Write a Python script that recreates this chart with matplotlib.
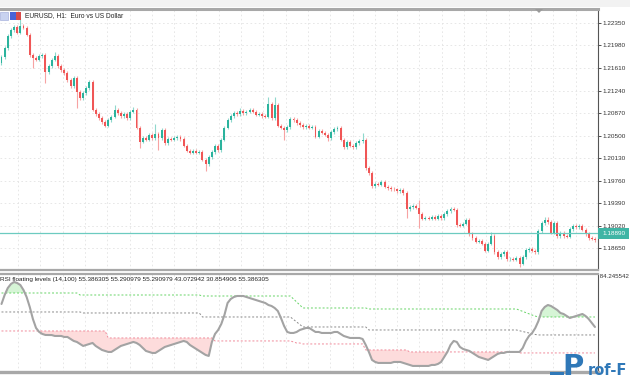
import numpy as np
import matplotlib
matplotlib.use("Agg")
import matplotlib.pyplot as plt
from matplotlib.patches import Rectangle, Polygon
import matplotlib.transforms as mtransforms

# ---------------- data ----------------
title = "EURUSD, H1:  Euro vs US Dollar"
ind_label = ("RSI floating levels (14,100) 55.386305 55.290979 55.290979 "
             "43.072942 30.854906 55.386305")
rsi_max_label = "84.245542"
watermark = ("P", "rof-F")

first_open = 1.21692
closes = [
    1.21791, 1.21939, 1.22136, 1.22235, 1.22284, 1.22186, 1.22301, 1.22268, 1.22153, 1.21824,
    1.21775, 1.21742, 1.21807, 1.21824, 1.21544, 1.21643, 1.21742, 1.21807, 1.21643, 1.21577,
    1.21528, 1.21413, 1.21314, 1.21446, 1.21216, 1.21117, 1.21199, 1.21281, 1.21380, 1.20920,
    1.20854, 1.20788, 1.20722, 1.20657, 1.20755, 1.20805, 1.20920, 1.20870, 1.20821, 1.20854,
    1.20788, 1.20887, 1.20920, 1.20624, 1.20394, 1.20459, 1.20427, 1.20509, 1.20459, 1.20525,
    1.20459, 1.20591, 1.20377, 1.20443, 1.20427, 1.20459, 1.20476, 1.20443, 1.20328, 1.20246,
    1.20213, 1.20246, 1.20213, 1.20229, 1.20098, 1.20032, 1.20147, 1.20229, 1.20328, 1.20262,
    1.20427, 1.20624, 1.20755, 1.20821, 1.20870, 1.20854, 1.20903, 1.20870, 1.20887, 1.20920,
    1.20887, 1.20838, 1.20854, 1.20821, 1.20805, 1.21018, 1.20788, 1.21002, 1.20657, 1.20624,
    1.20591, 1.20640, 1.20772, 1.20755, 1.20706, 1.20673, 1.20640, 1.20657, 1.20624, 1.20640,
    1.20476, 1.20574, 1.20542, 1.20509, 1.20459, 1.20558, 1.20607, 1.20624, 1.20427, 1.20311,
    1.20394, 1.20328, 1.20311, 1.20377, 1.20410, 1.20427, 1.19966, 1.19884, 1.19670, 1.19703,
    1.19687, 1.19736, 1.19654, 1.19637, 1.19621, 1.19615, 1.19588, 1.19605, 1.19555, 1.19292,
    1.19325, 1.19342, 1.19309, 1.19210, 1.19128, 1.19144, 1.19128, 1.19161, 1.19128, 1.19177,
    1.19144, 1.19210, 1.19259, 1.19292, 1.19276, 1.19029, 1.19013, 1.19046, 1.19111, 1.18881,
    1.18815, 1.18750, 1.18766, 1.18717, 1.18602, 1.18717, 1.18848, 1.18585, 1.18503, 1.18552,
    1.18585, 1.18470, 1.18478, 1.18454, 1.18487, 1.18388, 1.18503, 1.18618, 1.18635, 1.18602,
    1.18585, 1.18930, 1.19062, 1.19111, 1.19078, 1.18898, 1.19062, 1.18848, 1.18898, 1.18848,
    1.18832, 1.18963, 1.19013, 1.18996, 1.19013, 1.18947, 1.18881, 1.18815, 1.18799, 1.18782,
]
wick_highs = {6: 1.22432, 17: 1.21873, 28: 1.21413, 36: 1.21002, 42: 1.20969,
              49: 1.20690, 76: 1.20953, 85: 1.21133, 87: 1.21133, 115: 1.20542,
              133: 1.19440, 156: 1.18914, 173: 1.19161, 174: 1.19161}
wick_lows = {10: 1.21610, 14: 1.21364, 24: 1.20953, 44: 1.20295, 50: 1.20262,
             65: 1.19917, 90: 1.20427, 104: 1.20410, 129: 1.19144, 133: 1.18980,
             165: 1.18339}
bid_price = 1.18890
price_ticks = [1.22350, 1.21980, 1.21610, 1.21240, 1.20870, 1.20500,
               1.20130, 1.19760, 1.19390, 1.19020, 1.18650]

rsi = [
    64.12, 70.23, 74.98, 77.70, 79.06, 78.38, 77.02, 73.62, 68.87, 62.08,
    53.93, 47.82, 45.11, 43.75, 43.07, 43.07, 43.00, 42.39, 42.39, 42.39,
    41.71, 41.71, 40.35, 39.00, 38.32, 36.96, 35.60, 36.28, 36.96, 37.64,
    35.60, 34.24, 32.88, 32.21, 31.53, 31.53, 32.88, 34.24, 35.60, 36.28,
    36.96, 37.64, 38.32, 37.64, 36.28, 34.24, 32.21, 31.53, 30.85, 30.85,
    32.21, 33.56, 34.92, 35.60, 36.28, 36.96, 37.64, 38.32, 39.00, 38.32,
    36.28, 34.92, 33.56, 32.21, 30.85, 29.49, 28.81, 38.32, 43.75, 46.46,
    50.54, 56.65, 64.80, 67.51, 68.87, 69.55, 69.55, 69.55, 68.87, 68.19,
    67.51, 66.83, 66.15, 65.48, 64.80, 63.44, 62.76, 61.40, 59.36, 54.61,
    49.18, 45.11, 44.43, 44.43, 45.11, 46.46, 47.14, 47.82, 47.82, 46.46,
    45.11, 45.11, 44.43, 44.43, 44.43, 44.43, 45.11, 45.11, 43.75, 42.39,
    41.71, 41.03, 41.03, 41.03, 41.03, 40.35, 36.28, 31.53, 26.09, 24.73,
    24.06, 24.06, 24.06, 24.06, 24.06, 24.73, 24.73, 24.73, 24.06, 23.38,
    22.70, 22.02, 22.02, 22.02, 22.02, 22.02, 22.02, 22.70, 22.70, 23.38,
    24.73, 28.13, 31.53, 36.28, 39.00, 38.32, 34.92, 33.56, 32.88, 32.21,
    30.85, 29.49, 28.13, 27.45, 26.77, 26.09, 27.45, 28.81, 30.17, 30.85,
    30.85, 31.53, 31.53, 31.53, 31.53, 31.53, 34.24, 39.00, 42.39, 44.43,
    47.82, 52.57, 59.36, 62.08, 63.44, 62.76, 61.40, 60.04, 58.01, 57.33,
    55.97, 54.61, 55.29, 55.97, 56.65, 57.33, 55.97, 53.93, 51.22, 48.50,
]
# floating levels: (first bar index, value)
upper_steps = [(0, 71.59), (25, 70.23), (64, 69.55), (93, 67.50), (94, 65.50),
               (95, 63.40), (96, 61.40), (117, 60.72), (165, 59.90), (166, 59.00),
               (167, 58.20), (168, 57.40), (169, 56.60), (170, 55.90), (171, 55.29)]
mid_steps = [(0, 58.69), (26, 58.01), (64, 55.29), (93, 53.60), (94, 51.90),
             (95, 50.20), (96, 48.50), (117, 46.46), (165, 45.90), (166, 45.40),
             (167, 44.90), (168, 44.40), (169, 43.90), (170, 43.40), (171, 43.07)]
lower_steps = [(0, 45.78), (34, 41.03), (68, 39.00), (93, 38.30), (94, 37.60),
               (96, 36.96), (116, 32.88), (130, 31.53), (165, 30.85)]

# ---------------- helpers ----------------
N = len(closes)
x = np.arange(N)
opens = [first_open] + closes[:-1]
wick_pad = 0.00025
highs = [wick_highs.get(i, max(opens[i], closes[i]) + wick_pad) for i in range(N)]
lows = [wick_lows.get(i, min(opens[i], closes[i]) - wick_pad) for i in range(N)]


def expand(steps, n):
    starts = [s for s, _ in steps] + [n]
    vals = [v for _, v in steps]
    return np.repeat(vals, np.diff(starts))


upper = expand(upper_steps, N)
mid = expand(mid_steps, N)
lower = expand(lower_steps, N)
rsi_a = np.array(rsi)

# ---------------- figure ----------------
W, H = 630, 380
fig = plt.figure(figsize=(W / 100, H / 100), dpi=100)
fig.patch.set_facecolor("white")
FONT = "Liberation Sans"

bull = "#2bb39d"
bear = "#f05656"
bull_w = "#8fd8cc"
bear_w = "#f7a3a3"
grid_c = "#e3e3e3"
sep_c = "#a8a8a8"

ax = fig.add_axes([0, 1 - 270 / H, 598 / W, (270 - 9) / H])
ax2 = fig.add_axes([0, 1 - 372 / H, 598 / W, (372 - 274) / H])

px_per_bar = 3.14
xlim = (-1.5 / px_per_bar, -1.5 / px_per_bar + 598 / px_per_bar)

# grid (vertical lines in axes fraction, every ~22.3 px)
vfr = [(18 + 22.3 * k) / 598 for k in range(27) if 18 + 22.3 * k < 598]
for a in (ax, ax2):
    a.vlines(vfr, 0, 1, transform=a.transAxes, colors=grid_c, lw=0.6,
             linestyles=(0, (2, 3)), zorder=0)
for p in price_ticks:
    ax.axhline(p, color=grid_c, lw=0.6, ls=(0, (2, 3)), zorder=0)

# candles
for i in range(N):
    o, c = opens[i], closes[i]
    up = c >= o
    ax.vlines(x[i], lows[i], highs[i], color=bull_w if up else bear_w, lw=0.8, zorder=2)
    body = max(abs(c - o), 0.00004)
    ax.bar(x[i], body, bottom=min(o, c), width=0.62,
           color=bull if up else bear, lw=0, zorder=3)

ax.axhline(bid_price, color="#6ccbc0", lw=0.9, zorder=4)
trans = mtransforms.blended_transform_factory(ax.transAxes, ax.transData)
ax.add_patch(Rectangle((1.0, bid_price - 0.00085), 31 / 598, 0.0017,
                       transform=trans, fc="#3fb5a5", ec="none", clip_on=False,
                       zorder=6))
ax.text(1.0 + 4 / 598, bid_price, f"{bid_price:.5f}", transform=trans, ha="left",
        va="center", fontsize=4.6, family=FONT, color="white", clip_on=False,
        zorder=7)

ax.set_xlim(*xlim)
ax.set_ylim(1.18289, 1.22580)
ax.yaxis.tick_right()
ax.set_yticks(price_ticks)
ax.set_yticklabels([f"{p:.5f}" for p in price_ticks], family=FONT)
ax.tick_params(axis="y", labelsize=4.6, length=2.5, width=0.6, pad=1,
               colors="#333333")
ax.set_xticks([])
ax.spines["left"].set_visible(False)
ax.spines["right"].set_color("#555555")
ax.spines["right"].set_linewidth(0.8)
ax.spines["top"].set_color(sep_c)
ax.spines["top"].set_linewidth(2.2)
ax.spines["bottom"].set_color(sep_c)
ax.spines["bottom"].set_linewidth(1.6)

# ----- RSI panel -----
ax2.fill_between(x, rsi_a, upper, where=rsi_a >= upper, interpolate=True,
                 color="#d6f5d6", lw=0, zorder=1)
ax2.fill_between(x, rsi_a, lower, where=rsi_a <= lower, interpolate=True,
                 color="#fddcdc", lw=0, zorder=1)
ax2.plot(x, upper, color="#66d466", lw=0.7, ls=(0, (2, 2)), zorder=2)
ax2.plot(x, mid, color="#8a8a8a", lw=0.7, ls=(0, (2, 2)), zorder=2)
ax2.plot(x, lower, color="#f08a9a", lw=0.7, ls=(0, (2, 2)), zorder=2)
ax2.plot(x, rsi_a, color="#a3a3a3", lw=1.5, zorder=3, solid_capstyle="round")
ax2.set_xlim(*xlim)
ax2.set_ylim(17.9, 84.5)
ax2.set_xticks([])
ax2.set_yticks([])
ax2.spines["left"].set_visible(False)
ax2.spines["right"].set_color("#555555")
ax2.spines["right"].set_linewidth(0.8)
ax2.spines["top"].set_color(sep_c)
ax2.spines["top"].set_linewidth(1.6)
ax2.spines["bottom"].set_color(sep_c)
ax2.spines["bottom"].set_linewidth(2.4)
ax2.text(1.0, 0.97, " " + rsi_max_label, transform=ax2.transAxes, ha="left",
         va="center", fontsize=4.4, family=FONT, color="#333333", clip_on=False)
ax2.text(0.0, 0.94, ind_label, transform=ax2.transAxes, ha="left", va="center",
         fontsize=4.6, family=FONT, color="#222222", zorder=5)

# ----- title & decorations -----
fig.text(25 / W, 1 - 16 / H, title, ha="left", va="center", fontsize=4.8,
         family=FONT, color="#222222")
fig.add_artist(Rectangle((0, 1 - 7 / H), 1, 7 / H, transform=fig.transFigure,
                         fc="#f2f2f2", ec="none", zorder=0))
fig.add_artist(Rectangle((0 / W, 1 - 20 / H), 8 / W, 8 / H, transform=fig.transFigure,
                         fc="#c9d3f0", ec="#9aa6d8", lw=0.4))
fig.add_artist(Rectangle((10 / W, 1 - 20 / H), 6 / W, 8 / H, transform=fig.transFigure,
                         fc="#4a63d8", ec="none"))
fig.add_artist(Rectangle((16 / W, 1 - 20 / H), 5 / W, 8 / H, transform=fig.transFigure,
                         fc="#d84a4a", ec="none"))
fig.add_artist(Polygon([[535 / W, 1 - 9 / H], [543 / W, 1 - 9 / H], [539 / W, 1 - 13 / H]],
                       closed=True, transform=fig.transFigure, fc="#9a9a9a", ec="none"))

# watermark (kept inside the image)
fig.add_artist(Rectangle((550 / W, 1 - 375 / H), 14 / W, 3 / H, transform=fig.transFigure,
                         fc="#2f78b8", ec="none", zorder=10))
fig.text(562 / W, 1 - 375 / H, watermark[0], fontsize=21, fontweight="bold",
         color="#2f78b8", family="DejaVu Sans", ha="left", va="baseline", zorder=10)
fig.text(627 / W, 1 - 375 / H, watermark[1], fontsize=10.5, fontweight="bold",
         color="#2f78b8", family="DejaVu Sans", ha="right", va="baseline", zorder=10)

fig.savefig("out.png", dpi=100)
